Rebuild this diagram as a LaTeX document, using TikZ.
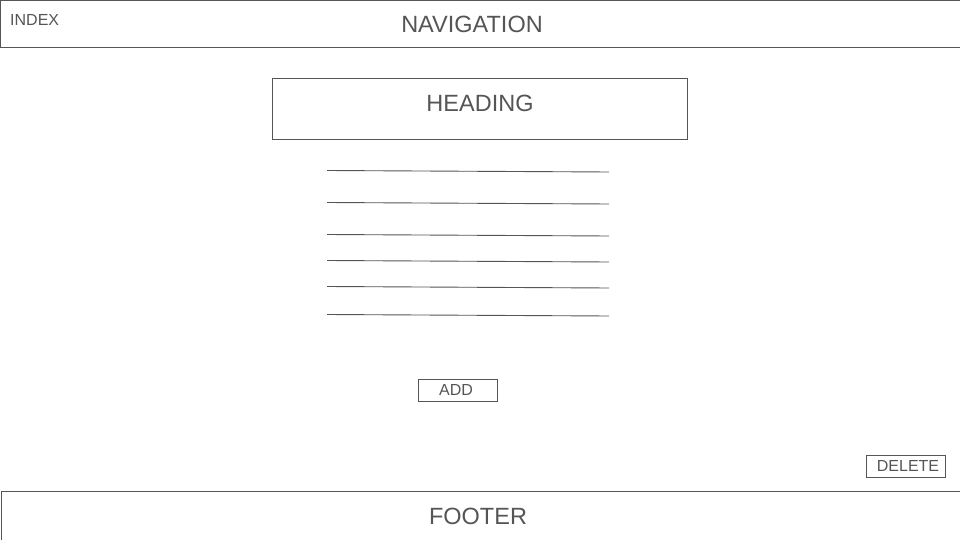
\documentclass[tikz,border=0pt]{standalone}
\usepackage{fontspec}
\setmainfont{Liberation Sans}
\definecolor{ink}{HTML}{555555}
\begin{document}
\begin{tikzpicture}[x=1pt,y=-1pt,
  frame/.style={draw=ink,line width=1pt},
  big/.style={text=ink,font=\fontsize{23.5}{26}\selectfont,inner sep=0pt},
  small/.style={text=ink,font=\fontsize{16}{19}\selectfont,inner sep=0pt},
  rule/.style={draw=ink,line width=0.9pt}]
\useasboundingbox (0,0) rectangle (960,540);
% navigation bar
\draw[frame] (965,0.8) -- (0.5,0.8) -- (0.5,48) -- (965,48);
\node[big] (nav) at (472,24) {NAVIGATION};
\node[small,anchor=west] (index) at (10,20) {INDEX};
% heading
\draw[frame] (272.5,78.5) rectangle (687.5,139.5);
\node[big] (heading) at (480,103) {HEADING};
% lines
\foreach \i/\a/\b in {1/170.5/172,2/202.5/204,3/234.5/236,4/260.5/262,5/286.5/288,6/314.5/316}{
  \coordinate (l\i) at (327,\a);
  \coordinate (r\i) at (609,\b);
  \draw[rule] (l\i) -- (r\i);
}
% add button
\draw[frame] (418.5,379.5) rectangle (497.5,401.5);
\node[small] (add) at (456,390) {ADD};
% delete button
\draw[frame] (866.5,455.5) rectangle (945.5,477.5);
\node[small] (delete) at (908,466) {DELETE};
% footer
\draw[frame] (1,545) -- (1,491.5) -- (965,491.5);
\node[big] (footer) at (478,516) {FOOTER};
\end{tikzpicture}
\end{document}
